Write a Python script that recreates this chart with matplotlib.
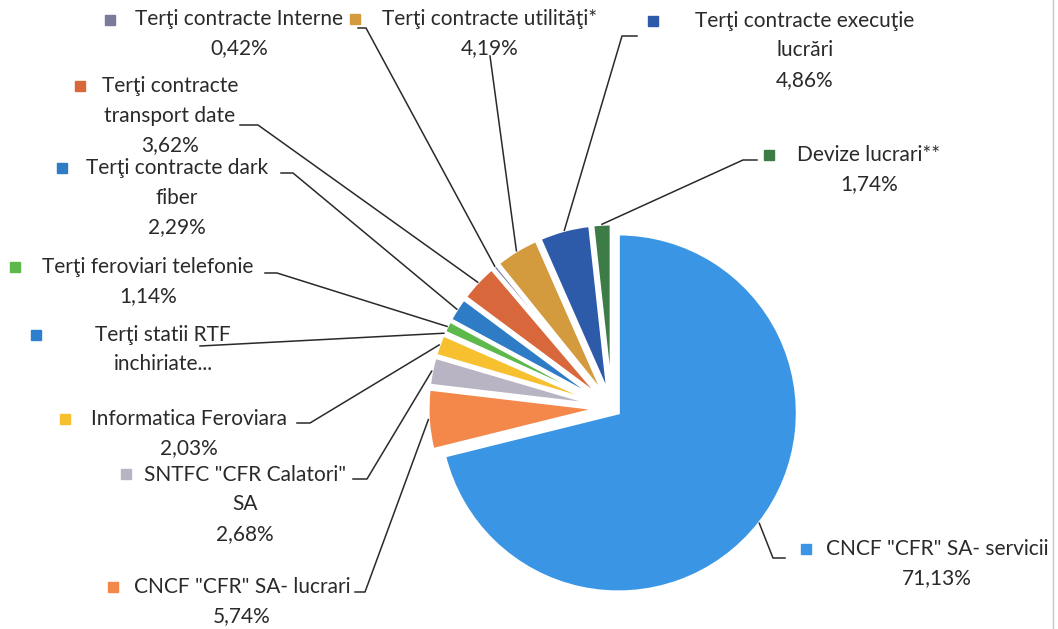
import numpy as np
import matplotlib.pyplot as plt

W, H = 1058, 629

# data
labels = ['CNCF "CFR" SA- servicii', 'CNCF "CFR" SA- lucrari', 'SNTFC "CFR Calatori"\nSA',
          'Informatica Feroviara', 'Terţi statii RTF\ninchiriate...', 'Terţi feroviari telefonie',
          'Terţi contracte dark\nfiber', 'Terţi contracte\ntransport date', 'Terţi contracte Interne',
          'Terţi contracte utilităţi*', 'Terţi contracte execuţie\nlucrări', 'Devize lucrari**']
shares = [71.13, 5.74, 2.68, 2.03, 0.16, 1.14, 2.29, 3.62, 0.42, 4.19, 4.86, 1.74]
show_pct = [True, True, True, True, False, True, True, True, True, True, True, True]
colors = ['#3a96e4', '#f4874a', '#b8b4c4', '#f6c02e', '#2f7fd0', '#5db94a',
          '#2e7cc6', '#d8683c', '#7b7a9a', '#d49a3e', '#2d5ba9', '#3d7b47']

# layout (pixel positions, y from top)
text_xy = [(937, 549), (242, 587), (245, 475), (189, 419), (163, 335), (148, 267),
           (177, 168), (170, 86), (239, 19), (490, 19), (805, 21), (869, 155)]
square_xy = [(806, 549), (113, 587), (126, 474), (65, 419), (36, 335), (15, 267),
             (62, 168), (80, 86), (110, 20), (355, 19), (653, 21), (769, 155)]
elbows = [[(785, 558), (773, 558)], [(355, 592), (365, 592)], [(353, 479), (367, 479)],
          [(297, 423), (310, 423)], [(200, 346)], [(265, 273), (277, 273)],
          [(281, 173), (293, 173)], [(240, 125), (258, 125)], [(358, 28), (366, 28)],
          [(490, 56)], [(637, 36), (622, 36)], [(757, 160), (743, 160)]]
line_h = 29.5

plt.rcParams['font.family'] = ['Lato', 'DejaVu Sans']
fig = plt.figure(figsize=(W / 100, H / 100), dpi=100)
ax = fig.add_axes([0, 0, 1, 1])

# explode is in data units (pixels here)
explode = [8] + [15] * (len(shares) - 1)
wedges, _ = ax.pie(shares, colors=colors, startangle=90, counterclock=False,
                   center=(612, H - 408), radius=179, explode=explode,
                   wedgeprops=dict(linewidth=2.2, edgecolor='white'))
for w in wedges[1:]:
    w.set_radius(169)

for i, w in enumerate(wedges):
    th = np.radians((w.theta1 + w.theta2) / 2)
    cx, cy = w.center
    end = (cx + w.r * np.cos(th), cy + w.r * np.sin(th))
    pts = [(x, H - y) for x, y in elbows[i]] + [end]
    ax.plot([p[0] for p in pts], [p[1] for p in pts], color='#2a2a2a', lw=1.1, zorder=1)

    lines = labels[i].split('\n')
    if show_pct[i]:
        lines.append(f'{shares[i]:.2f}'.replace('.', ',') + '%')
    tx, ty = text_xy[i]
    for k, s in enumerate(lines):
        ax.text(tx, H - (ty + k * line_h), s, ha='center', va='center',
                fontsize=15, color='#2a2a2a')
    sx, sy = square_xy[i]
    ax.plot(sx, H - sy, marker='s', markersize=6.5, color=colors[i], linestyle='none')

ax.axvline(1053, color='#c8c8c8', lw=1)
ax.set_xlim(0, W)
ax.set_ylim(0, H)
ax.axis('off')
fig.savefig('out.png', dpi=100, facecolor='white')
